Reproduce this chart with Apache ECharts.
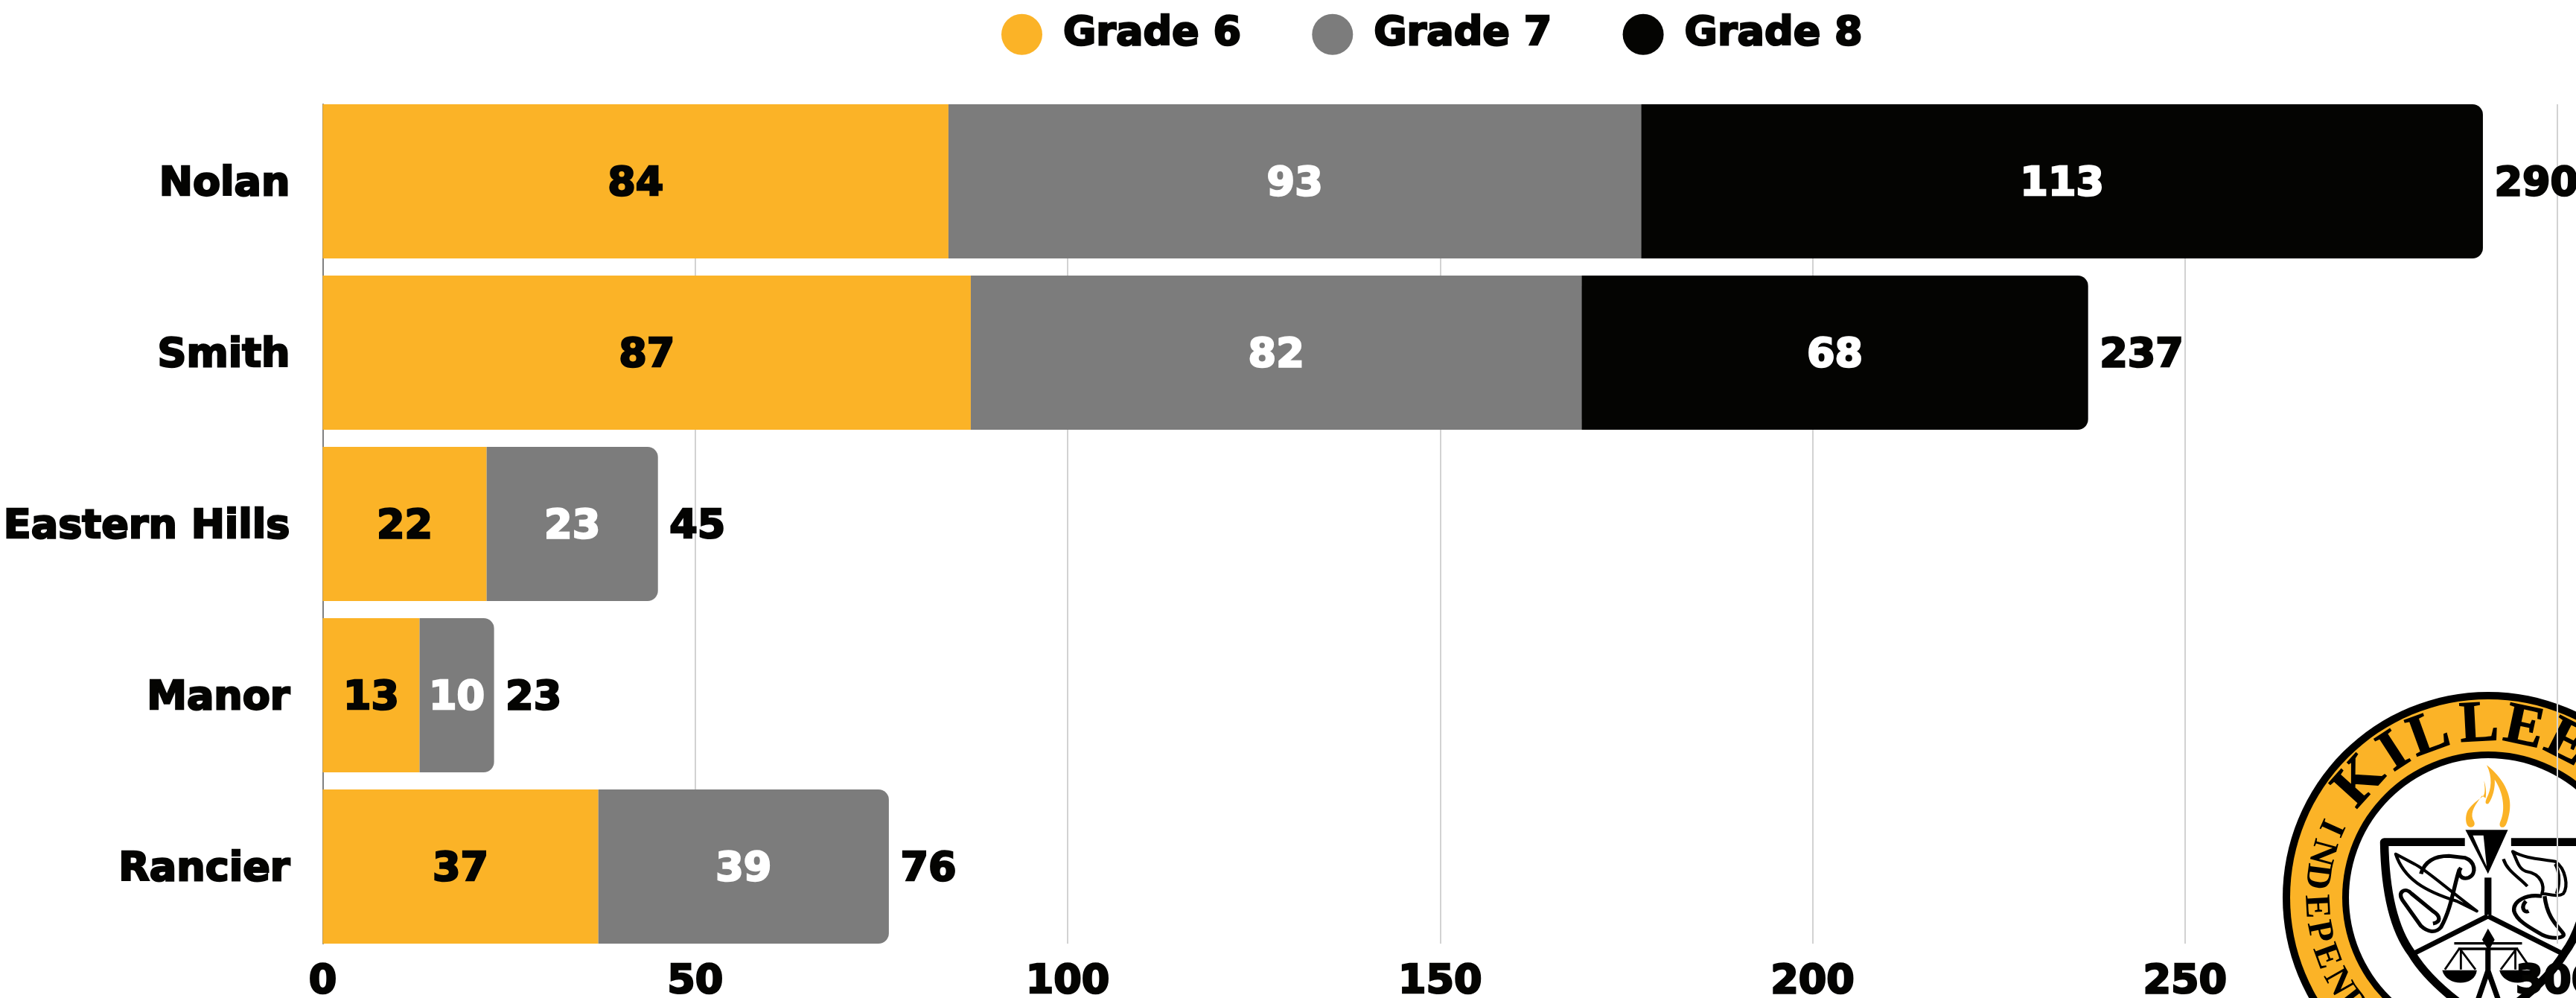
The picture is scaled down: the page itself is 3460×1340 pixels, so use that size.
<!DOCTYPE html>
<html><head><meta charset="utf-8">
<script src="https://cdn.jsdelivr.net/npm/echarts@6/dist/echarts.min.js"></script>
<style>html,body{margin:0;padding:0;background:#fff}#c{width:3460px;height:1340px}</style>
</head><body><div id="c"></div>
<script>
const categories = ['Nolan','Smith','Eastern Hills','Manor','Rancier'];
const grade6 = [84,87,22,13,37];
const grade7 = [93,82,23,10,39];
const grade8 = [113,68,null,null,null];
const totals = [290,237,45,23,76];
const seriesNames = ['Grade 6','Grade 7','Grade 8'];
const colors = ['#FBB327','#7C7C7C','#040402'];
const labelColors = ['#040402','#ffffff','#ffffff'];
const xMin = 0, xMax = 300, xStep = 50;

const FF = '"DejaVu Sans"';
function txt(color){ return {color, fontFamily:FF, fontWeight:'bold', fontSize:54, textBorderColor:color, textBorderWidth:2.5}; }
const grades = [grade6, grade7, grade8];
function lastIndex(i){ return grade8[i] != null ? 2 : 1; }
const barSeries = grades.map((vals, g) => ({
  name: seriesNames[g], type:'bar', stack:'s', barWidth:207, xAxisIndex:0, yAxisIndex:0,
  itemStyle:{color:colors[g]},
  label:{show:true, position:'inside', offset:[0,4], ...txt(labelColors[g])},
  data: vals.map((v,i)=>({value:v, itemStyle:{borderRadius: lastIndex(i)===g ? [0,14,14,0] : 0}}))
}));

const logoPaths = [
 {d:'M1232 442 C1290 490 1330 560 1318 630 C1312 665 1305 690 1295 692 C1280 695 1278 680 1285 665 C1300 630 1300 560 1262 500 C1265 530 1255 575 1238 598 C1226 600 1226 590 1232 575 C1250 540 1255 490 1232 442 Z', fill:'#FBB327'},
 {d:'M1222 505 C1228 545 1225 565 1215 570 C1190 590 1165 610 1157 635 C1150 660 1155 690 1170 692 C1190 692 1190 675 1180 660 C1170 630 1190 600 1215 565 L1228 575 C1232 550 1228 525 1222 505 Z', fill:'#FBB327'},
 {d:'M1152 703 L1312 703 L1237 880 Z', fill:'#000'},
 {d:'M1180 725 L1220 725 L1232 850 Z', fill:'#fff'},
 {d:'M1150 752 L847 752 C850 950 880 1100 950 1200 C1000 1290 1090 1380 1237 1480', stroke:'#000', w:32},
 {d:'M1324 752 L1627 752 C1624 950 1594 1100 1524 1200 C1474 1290 1384 1380 1237 1480', stroke:'#000', w:32},
 {d:'M1237 1050 L950 1205 M1237 1050 L1524 1205', stroke:'#000', w:20},
 {d:'M1237 895 L1237 1045', stroke:'#000', w:26},
 {d:'M890 800 L960 840 C1000 860 1060 920 1195 1030 L1120 990 C1000 950 920 900 890 800 Z', fill:'#fff', stroke:'#000', w:12},
 {d:'M985 880 C1000 825 1040 808 1090 808 L1150 815 C1190 830 1195 880 1165 895 C1135 905 1120 880 1135 855 M1130 860 C1110 920 1100 1020 1060 1095 C1040 1120 1010 1115 985 1090 L915 985 C895 955 925 930 950 960 L1030 1030 C1060 1050 1060 1075 1030 1080', stroke:'#000', w:15},
 {d:'M1330 790 C1380 820 1440 820 1490 830 C1530 860 1540 930 1520 960 C1500 975 1470 960 1440 960 C1450 930 1440 880 1380 870 C1350 860 1345 820 1330 790 Z', stroke:'#000', w:12},
 {d:'M1295 820 C1310 870 1350 890 1385 930 M1490 840 C1510 880 1505 930 1495 960', stroke:'#000', w:12},
 {d:'M1440 970 C1380 960 1330 990 1335 1030 C1345 1070 1400 1100 1440 1125 C1480 1145 1530 1140 1520 1120 C1500 1090 1460 1060 1450 970 M1380 990 C1360 1010 1370 1040 1390 1030', stroke:'#000', w:15},
 {d:'M1237 1100 L1262 1145 L1240 1190 L1215 1145 Z', fill:'#000'},
 {d:'M1110 1160 L1365 1160 M1125 1182 L1350 1182', stroke:'#000', w:10},
 {d:'M1130 1180 L1075 1265 M1130 1180 L1190 1265 M1135 1180 L1135 1265 M1345 1180 L1285 1265 M1345 1180 L1400 1265 M1340 1180 L1340 1265', stroke:'#000', w:8},
 {d:'M1065 1268 L1195 1268 C1190 1335 1080 1335 1065 1268 Z M1280 1268 L1410 1268 C1405 1335 1295 1335 1280 1268 Z', fill:'#000'},
 {d:'M1237 1180 L1237 1290 M1237 1270 L1200 1385 M1237 1270 L1275 1385', stroke:'#000', w:20}
];
const cx = 3342, cy = 1205;
const killeen = [['K',-48],['I',-33],['L',-20],['L',-3],['E',12],['E',27],['N',42]];
const indep = [['I',-66],['N',-74.8],['D',-83],['E',-93],['P',-101.5],['E',-110],['N',-119.5],['D',-128]];
function renderLogo(){
  const letters = [];
  killeen.forEach(([t,a])=>{ const r=a*Math.PI/180;
    letters.push({type:'text', x:cx+231*Math.sin(r), y:cy-231*Math.cos(r), rotation:-r,
      style:{text:t, font:'bold 78px "Liberation Serif"', fill:'#000', stroke:'#000', lineWidth:1.5, align:'center', verticalAlign:'middle'}}); });
  indep.forEach(([t,a])=>{ const r=a*Math.PI/180;
    letters.push({type:'text', x:cx+232*Math.sin(r), y:cy-232*Math.cos(r), rotation:-(r+Math.PI),
      style:{text:t, font:'bold 48px "Liberation Serif"', fill:'#000', align:'center', verticalAlign:'middle'}}); });
  return {type:'group', children:[
    {type:'circle', shape:{cx,cy,r:276}, style:{fill:'#000'}},
    {type:'circle', shape:{cx,cy,r:266}, style:{fill:'#FBB327'}},
    {type:'circle', shape:{cx,cy,r:196}, style:{fill:'#000'}},
    {type:'circle', shape:{cx,cy,r:187}, style:{fill:'#fff'}},
    {type:'group', x:2900, y:880, scaleX:1/2.8, scaleY:1/3,
      children: logoPaths.map(p=>({type:'path', shape:{pathData:p.d},
        style:{fill:p.fill||'none', stroke:p.stroke||null, lineWidth:p.w||0, lineCap:'butt', lineJoin:'round'}}))},
    ...letters
  ]};
}

const chart = echarts.init(document.getElementById('c'), null, {renderer:'canvas'});
chart.setOption({
  animation:false,
  backgroundColor:'#fff',
  legend:{
    data:seriesNames, left:1340, top:13, icon:'circle', itemWidth:55, itemHeight:55, itemGap:94,
    textStyle:{...txt('#040402'), padding:[0,0,0,23]}
  },
  grid:[
    {left:433.5, width:3001.5, top:128.5, height:1150, outerBoundsMode:'none'},
    {left:433.5, width:3001.5, top:140, height:1127, outerBoundsMode:'none'}
  ],
  xAxis:[
    {gridIndex:0, type:'value', min:xMin, max:xMax, interval:xStep, show:false},
    {gridIndex:1, type:'value', min:xMin, max:xMax, interval:xStep,
     axisLine:{show:false}, axisTick:{show:false},
     splitLine:{show:true, showMinLine:false, lineStyle:{color:'#d2d2d2', width:2}},
     axisLabel:{show:true, margin:25, hideOverlap:false, ...txt('#040402')}}
  ],
  yAxis:[
    {gridIndex:0, type:'category', inverse:true, data:categories,
     axisLine:{show:false}, axisTick:{show:false}, splitLine:{show:false},
     axisLabel:{margin:44, verticalAlign:'top', lineHeight:8, ...txt('#040402')}},
    {gridIndex:1, type:'value', min:0, max:1, splitLine:{show:false}, axisTick:{show:false}, axisLabel:{show:false},
     axisLine:{show:true, lineStyle:{color:'#808080', width:2}}}
  ],
  series:[
    ...barSeries,
    {type:'scatter', name:'Total', xAxisIndex:0, yAxisIndex:0, symbolSize:1, silent:true, z:3,
     itemStyle:{color:'rgba(0,0,0,0)', opacity:1},
     label:{show:true, position:'right', distance:15, opacity:1, offset:[0,4], ...txt('#040402'),
       formatter:p=>p.value[0]},
     data: totals.map((t,i)=>[t,i])},
    {type:'custom', name:'seal', coordinateSystem:'none', silent:true, z:-1, data:[0], renderItem:renderLogo}
  ]
});
</script></body></html>
